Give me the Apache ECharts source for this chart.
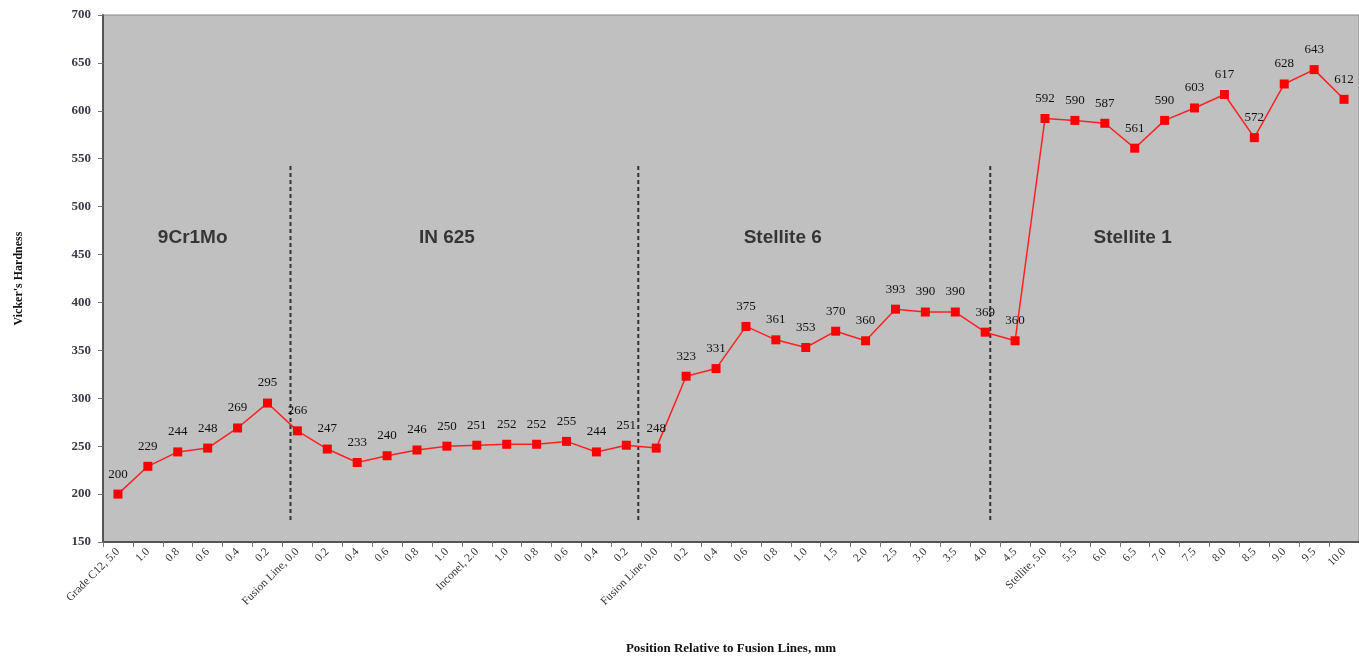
<!DOCTYPE html>
<html>
<head>
<meta charset="utf-8">
<script src="https://cdn.jsdelivr.net/npm/echarts@6/dist/echarts.min.js"></script>
<style>
html,body{margin:0;padding:0;background:#fff;}
#chart{width:1359px;height:660px;}
</style>
</head>
<body>
<div id="chart"></div>
<script>
const categories = ["Grade C12, 5.0","1.0","0.8","0.6","0.4","0.2","Fusion Line, 0.0","0.2","0.4","0.6","0.8","1.0","Inconel, 2.0","1.0","0.8","0.6","0.4","0.2","Fusion Line, 0.0","0.2","0.4","0.6","0.8","1.0","1.5","2.0","2.5","3.0","3.5","4.0","4.5","Stellite, 5.0","5.5","6.0","6.5","7.0","7.5","8.0","8.5","9.0","9.5","10.0"];
const hardness = [200,229,244,248,269,295,266,247,233,240,246,250,251,252,252,255,244,251,248,323,331,375,361,353,370,360,393,390,390,369,360,592,590,587,561,590,603,617,572,628,643,612];
const yTicks = [150,200,250,300,350,400,450,500,550,600,650,700];
const dividerX = [5.77, 17.4, 29.17];
const dividerY = [173, 545];
const regionNames = ["9Cr1Mo","IN 625","Stellite 6","Stellite 1"];
const regionX = [2.5, 11, 22.23, 33.93];
const regionY = 468;

const chart = echarts.init(document.getElementById('chart'), null, {renderer:'canvas'});
const serif = '"Liberation Serif","DejaVu Serif",serif';

const dividerSeries = dividerX.map(x => ({
  type:'line', xAxisIndex:1, yAxisIndex:0, silent:true, symbol:'none',
  data:[[x, dividerY[0]],[x, dividerY[1]]],
  lineStyle:{color:'#333', width:2, type:[4,3]}, z:1
}));

chart.setOption({
  animation:false,
  grid:{left:103, top:15, width:1260, height:530, show:true, backgroundColor:'#C0C0C0', borderColor:'#888', borderWidth:1},
  xAxis:[{
    type:'category', data:categories, boundaryGap:true,
    axisLine:{onZero:false, lineStyle:{color:'#555', width:2}},
    axisTick:{show:true, interval:0, length:5, lineStyle:{color:'#777'}},
    axisLabel:{interval:0, rotate:45, fontFamily:serif, fontSize:11.5, color:'#333', margin:8},
    name:'Position Relative to Fusion Lines, mm', nameLocation:'middle', nameGap:100,
    nameTextStyle:{fontFamily:serif, fontWeight:'bold', fontSize:13, color:'#111'}
  },{
    type:'value', min:-0.5, max:41.5, show:false
  }],
  yAxis:{
    type:'value', min:yTicks[0], max:yTicks[yTicks.length-1], interval:50,
    axisLine:{show:true, onZero:false, lineStyle:{color:'#555', width:2}},
    axisTick:{show:true, length:5, lineStyle:{color:'#777'}},
    splitLine:{show:false},
    axisLabel:{fontFamily:serif, fontSize:13, fontWeight:'bold', color:'#3a3a4a', margin:12},
    name:"Vicker's Hardness", nameLocation:'middle', nameGap:78, nameRotate:90,
    nameTextStyle:{fontFamily:serif, fontWeight:'bold', fontSize:12, color:'#111'}
  },
  series:[
    ...dividerSeries,
    {
      type:'scatter', xAxisIndex:1, yAxisIndex:0, silent:true, symbolSize:0,
      data:regionNames.map((n,i)=>({value:[regionX[i], regionY], name:n})),
      label:{show:true, position:'inside', formatter:p=>p.name, fontFamily:'"Liberation Sans",Arial,sans-serif', fontWeight:'bold', fontSize:19, color:'#111'},
      z:2
    },
    {
      type:'line', data:hardness, xAxisIndex:0, yAxisIndex:0,
      symbol:'rect', symbolSize:9,
      itemStyle:{color:'#FF0000'},
      lineStyle:{color:'#FF2020', width:1.5},
      label:{show:true, position:'top', distance:9, fontFamily:serif, fontSize:13, color:'#111'},
      z:3
    }
  ]
});
</script>
</body>
</html>
